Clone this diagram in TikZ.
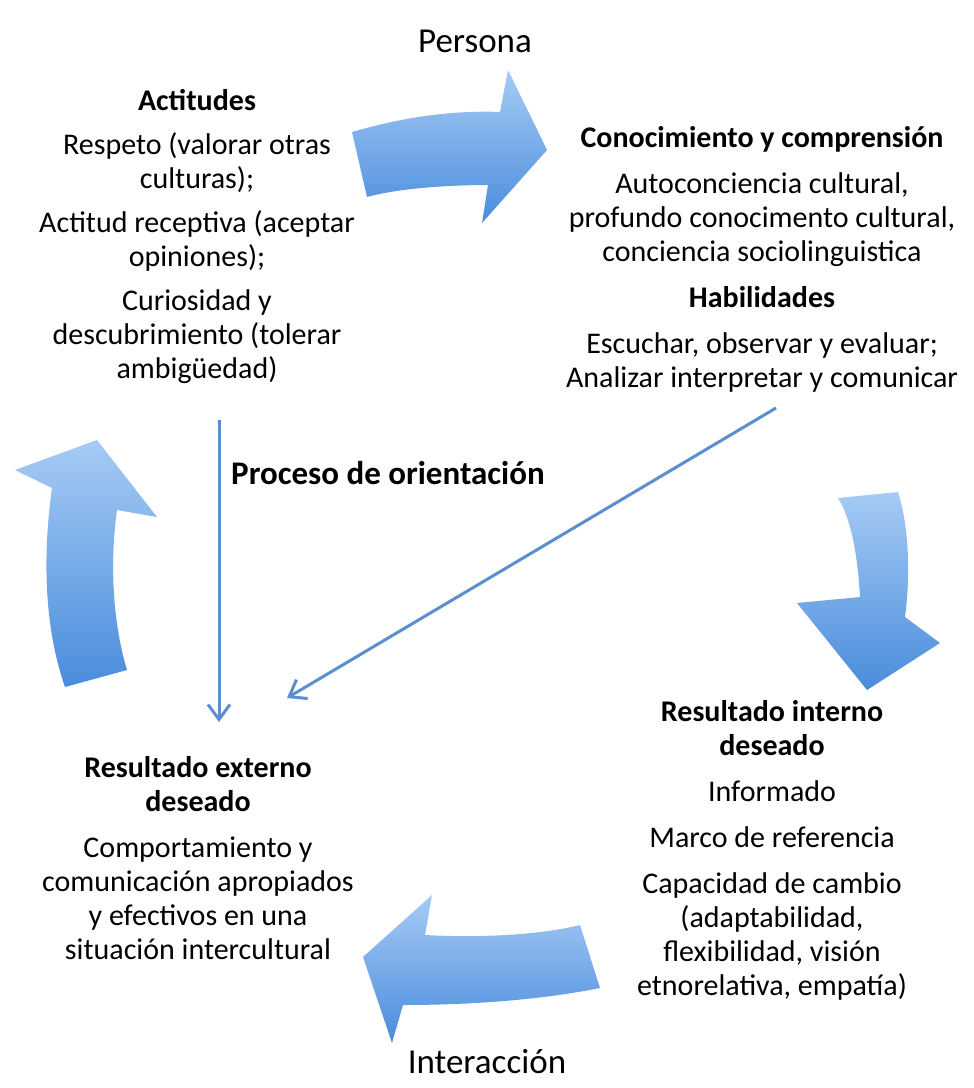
\documentclass[tikz,border=0pt]{standalone}
\usepackage{fontspec}
\setmainfont{Carlito}
\usepackage{tikz}
\usetikzlibrary{arrows.meta}
\definecolor{arrowlight}{HTML}{A6CBF5}
\definecolor{arrowdark}{HTML}{4A8CDC}
\definecolor{linkblue}{HTML}{5A8FCF}

\begin{document}
\begin{tikzpicture}[x=1pt,y=-1pt,
  txt/.style={align=center,inner sep=0pt,anchor=base,font=\fontsize{30}{34}\selectfont},
  bigarrow/.style={top color=arrowlight,bottom color=arrowdark,draw=none},
  link/.style={draw=linkblue,line width=3pt,-{Straight Barb[length=15pt,width=22pt]}}]
\useasboundingbox (0,0) rectangle (974,1088);
\node[txt,font=\fontsize{35}{40}\selectfont] (persona) at (475,52) {Persona};
\node[txt] (actitudes) at (197,378) {\textbf{Actitudes}\\[10pt] Respeto (valorar otras\\ culturas);\\[10pt] Actitud receptiva (aceptar\\ opiniones);\\[10pt] Curiosidad y\\ descubrimiento (tolerar\\ ambigüedad)};
\node[txt] (conocimiento) at (762,387) {\textbf{Conocimiento y comprensión}\\[12pt] Autoconciencia cultural,\\ profundo conocimento cultural,\\ conciencia sociolinguistica\\[12pt] \textbf{Habilidades}\\[12pt] Escuchar, observar y evaluar;\\ Analizar interpretar y comunicar};
\node[txt,font=\bfseries\fontsize{33}{38}\selectfont] (proceso) at (388,484) {Proceso de orientación};
\node[txt] (interno) at (772,995) {\textbf{Resultado interno}\\ \textbf{deseado}\\[12pt] Informado\\[12pt] Marco de referencia\\[12pt] Capacidad de cambio\\ (adaptabilidad,\\ flexibilidad, visión\\ etnorelativa, empatía)};
\node[txt] (externo) at (198,959) {\textbf{Resultado externo}\\ \textbf{deseado}\\[12pt] Comportamiento y\\ comunicación apropiados\\ y efectivos en una\\ situación intercultural};
\node[txt,font=\fontsize{35}{40}\selectfont] (interaccion) at (487,1073) {Interacción};

\path[bigarrow] (352,132) .. controls (400,118) and (450,110) .. (500,112) -- (508,70) -- (547,150) -- (482,223) -- (488,185) .. controls (450,185) and (400,188) .. (367,197) -- cycle;
\path[bigarrow] (97,440) -- (157,517) -- (117,510) .. controls (110,560) and (112,620) .. (127,670) -- (65,687) .. controls (45,630) and (42,560) .. (52,488) -- (15,470) -- cycle;
\path[bigarrow] (838,498) -- (898,492) .. controls (910,530) and (910,580) .. (905,617) -- (940,643) -- (867,690) -- (797,603) -- (860,597) .. controls (858,560) and (852,520) .. (838,498) -- cycle;
\path[bigarrow] (363,957) -- (432,895) -- (425,935) .. controls (480,938) and (540,935) .. (580,925) -- (600,988) .. controls (540,1000) and (470,1005) .. (403,1005) -- (392,1043) -- cycle;

\coordinate (vtop) at (219,420);
\coordinate (vend) at (219,722);
\coordinate (dtop) at (776,408);
\coordinate (dend) at (287,698);
\draw[link] (vtop) -- (vend);
\draw[link] (dtop) -- (dend);
\end{tikzpicture}
\end{document}
